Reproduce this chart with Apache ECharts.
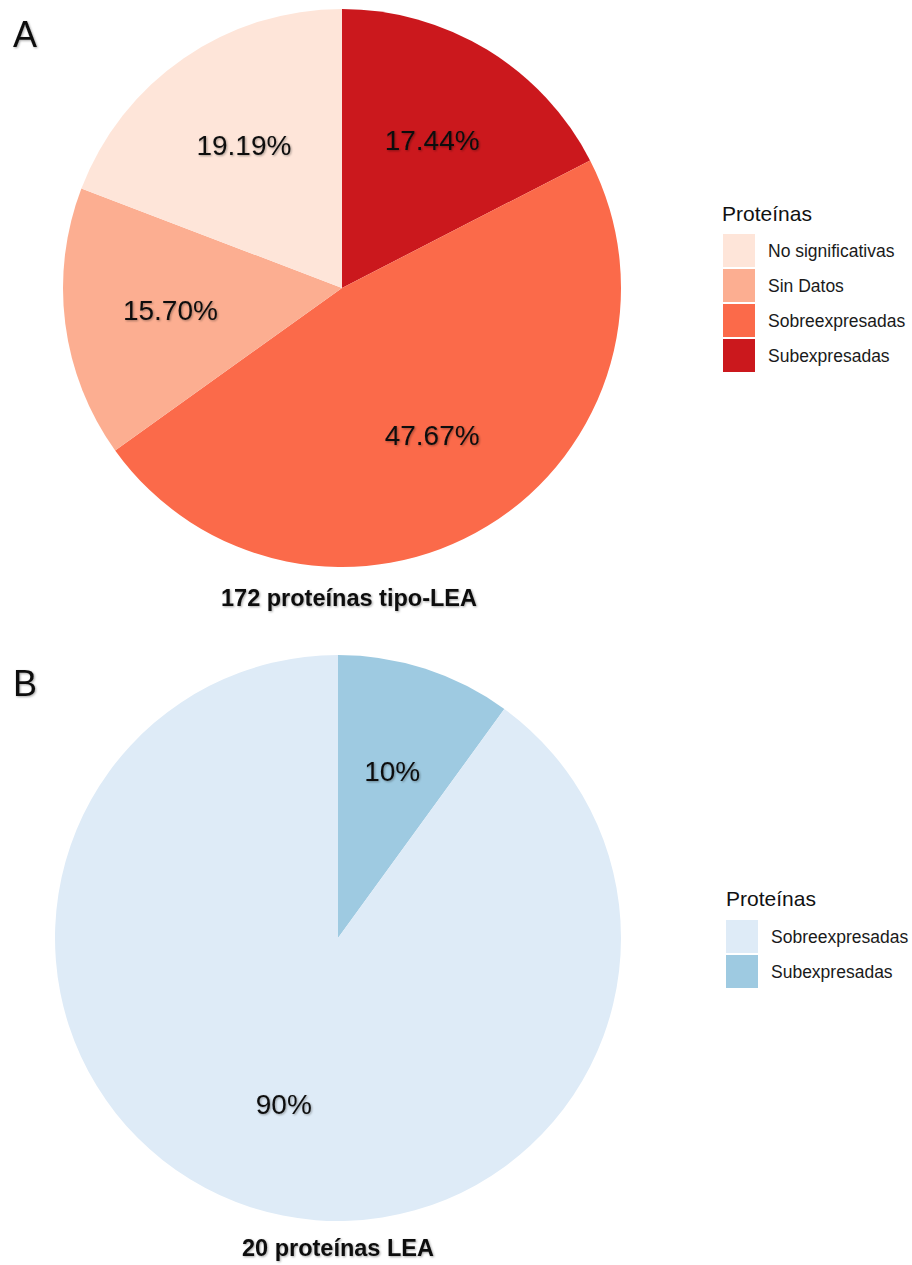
<!DOCTYPE html>
<html>
<head>
<meta charset="utf-8">
<script src="https://cdn.jsdelivr.net/npm/echarts@6/dist/echarts.min.js"></script>
<style>
  html, body { margin: 0; padding: 0; background: #ffffff; }
  #chart { width: 912px; height: 1265px; }
</style>
</head>
<body>
<div id="chart"></div>
<script>
// Panel A: 172 LEA-like proteins (percent of each class), clockwise from 12 o'clock
const namesA = ['Subexpresadas', 'Sobreexpresadas', 'Sin Datos', 'No significativas'];
const valuesA = [17.44, 47.67, 15.70, 19.19];
const colorsA = ['#CB181D', '#FB6A4A', '#FCAE91', '#FEE5D9'];
const legendOrderA = ['No significativas', 'Sin Datos', 'Sobreexpresadas', 'Subexpresadas'];

// Panel B: 20 LEA proteins
const namesB = ['Subexpresadas', 'Sobreexpresadas'];
const valuesB = [10, 90];
const colorsB = ['#9ECAE1', '#DEEBF7'];
const legendOrderB = ['Sobreexpresadas', 'Subexpresadas'];

const FONT = '"Liberation Sans", Arial, Helvetica, sans-serif';
const shadow = { textShadowColor: 'rgba(0,0,0,0.35)', textShadowBlur: 2, textShadowOffsetX: 1, textShadowOffsetY: 1 };

function pieData(names, values, colors) {
  return names.map((n, i) => ({ name: n, value: values[i], itemStyle: { color: colors[i] } }));
}

function legendData(order, names, colors) {
  return order.map(n => ({ name: n, itemStyle: { color: colors[names.indexOf(n)] } }));
}

// Filled pie, no labels
function fillSeries(id, center, r, names, values, colors) {
  return {
    type: 'pie', id: id, center: center, radius: [0, r],
    startAngle: 90, clockwise: true, animation: false, silent: true,
    label: { show: false }, labelLine: { show: false },
    itemStyle: { borderWidth: 0 },
    emphasis: { disabled: true },
    data: pieData(names, values, colors)
  };
}

// Transparent ring carrying the percentage labels at ~0.61 of the radius
function labelSeries(id, center, r, names, values, decimals) {
  return {
    type: 'pie', id: id, center: center, radius: [Math.round(r * 0.22), r],
    startAngle: 90, clockwise: true, animation: false, silent: true,
    itemStyle: { color: 'rgba(0,0,0,0)', borderWidth: 0 },
    emphasis: { disabled: true },
    labelLine: { show: false },
    label: {
      show: true, position: 'inside',
      formatter: p => p.value.toFixed(decimals) + '%',
      fontFamily: FONT, fontSize: 28, color: '#111111',
      ...shadow
    },
    data: names.map((n, i) => ({ name: n, value: values[i] }))
  };
}

function legendBox(left, top, order, names, colors) {
  return {
    orient: 'vertical', left: left, top: top, padding: 0,
    icon: 'rect', itemWidth: 32, itemHeight: 33, itemGap: 2,
    selectedMode: false,
    textStyle: { fontFamily: FONT, fontSize: 17.5, color: '#1a1a1a', padding: [0, 0, 0, 8] },
    data: legendData(order, names, colors)
  };
}

function txt(text, x, y, size, weight, align, withShadow) {
  const style = {
    text: text, x: x, y: y,
    font: weight + ' ' + size + 'px ' + FONT,
    fill: '#111111', align: align, verticalAlign: 'middle'
  };
  if (withShadow) {
    style.textShadowColor = 'rgba(0,0,0,0.35)';
    style.textShadowBlur = 2;
    style.textShadowOffsetX = 1;
    style.textShadowOffsetY = 1;
  }
  return { type: 'text', silent: true, style: style };
}

const chart = echarts.init(document.getElementById('chart'), null, { renderer: 'svg' });

chart.setOption({
  backgroundColor: '#ffffff',
  animation: false,
  legend: [
    legendBox(723, 234, legendOrderA, namesA, colorsA),
    legendBox(726, 920, legendOrderB, namesB, colorsB)
  ],
  series: [
    fillSeries('pieA', [342, 288], 279, namesA, valuesA, colorsA),
    fillSeries('pieB', [338, 938], 283, namesB, valuesB, colorsB),
    labelSeries('labelsA', [342, 288], 279, namesA, valuesA, 2),
    labelSeries('labelsB', [338, 938], 283, namesB, valuesB, 0)
  ],
  graphic: [
    txt('A', 25, 34, 36, 'normal', 'center', true),
    txt('B', 25, 683, 36, 'normal', 'center', true),
    txt('172 proteínas tipo-LEA', 349, 598, 23.5, 'bold', 'center', true),
    txt('20 proteínas LEA', 338, 1248, 23.5, 'bold', 'center', true),
    txt('Proteínas', 722, 213, 21, 'normal', 'left', false),
    txt('Proteínas', 726, 898, 21, 'normal', 'left', false)
  ]
});
</script>
</body>
</html>
